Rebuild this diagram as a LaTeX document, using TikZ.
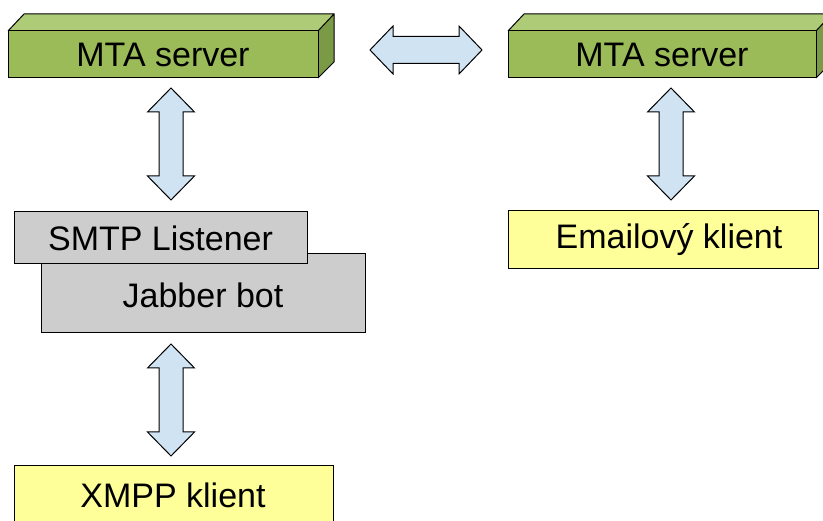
\documentclass[tikz,border=0pt]{standalone}
\usepackage{fontspec}
\setmainfont{Liberation Sans}
\definecolor{gfront}{HTML}{9BBB59}
\definecolor{gtop}{HTML}{AECB78}
\definecolor{gside}{HTML}{7A9A46}
\definecolor{ablue}{HTML}{CFE3F3}
\definecolor{bgray}{HTML}{CDCDCD}
\definecolor{byellow}{HTML}{FFFF99}
\tikzset{
  outl/.style={draw=black, line width=1pt, line join=miter},
  blockarrow/.style={outl, fill=ablue},
  lbl/.style={font=\fontsize{34}{40}\selectfont, inner sep=0pt},
  plainbox/.style={outl, inner sep=0pt, outer sep=0pt},
}
\newcommand\vblock[3]{\draw[blockarrow] (#1,#2) -- (#1+23.5,#2+24) -- (#1+12,#2+24) -- (#1+12,#3-24) -- (#1+23.5,#3-24) -- (#1,#3) -- (#1-23.5,#3-24) -- (#1-12,#3-24) -- (#1-12,#2+24) -- (#1-23.5,#2+24) -- cycle;}
\newcommand\mtabox[4]{% name, x1, x2, label
  \fill[gtop] (#2,31) -- (#2+16,14) -- (#3+16,14) -- (#3,31) -- cycle;
  \fill[gside] (#3,31) -- (#3+16,14) -- (#3+16,62) -- (#3,78) -- cycle;
  \node[plainbox, fill=gfront, minimum width={#3-#2}, minimum height=47, anchor=north west] (#1) at (#2,31) {};
  \draw[outl] (#2,31) -- (#2+16,14) -- (#3+16,14) -- (#3+16,62) -- (#3,78) (#3,31) -- (#3+16,14);
  \node[lbl] at (#1.center) {#4};
}
\begin{document}
\begin{tikzpicture}[x=1pt,y=-1pt]
\useasboundingbox (0,0) rectangle (823,521);
\clip (0,0) rectangle (823,521);
% MTA servers
\mtabox{mtaL}{8}{318}{MTA server}
\mtabox{mtaR}{508}{816}{MTA server}
% horizontal double arrow
\draw[blockarrow] (370,50) -- (393,26) -- (393,36.5) -- (459,36.5) -- (459,26) -- (482,50) -- (459,74) -- (459,63.5) -- (393,63.5) -- (393,74) -- cycle;
% vertical arrows
\vblock{171}{88}{200}
\vblock{671}{88}{200}
\vblock{171}{344}{456}
% Jabber bot and SMTP Listener
\node[plainbox, fill=bgray, minimum width=324, minimum height=79, anchor=north west] (jab) at (41,254) {};
\node[lbl] at (203,295) {Jabber bot};
\node[plainbox, fill=bgray, minimum width=293, minimum height=52, anchor=north west] (smtp) at (14,212) {};
\node[lbl] at (smtp.center) {SMTP Listener};
% clients
\node[plainbox, fill=byellow, minimum width=310, minimum height=58, anchor=north west] (email) at (508,211) {};
\node[lbl] at (669,240) {Emailový klient};
\node[plainbox, fill=byellow, minimum width=319, minimum height=70, anchor=north west] (xmpp) at (14,466) {};
\node[lbl] at (173,495) {XMPP klient};
\end{tikzpicture}
\end{document}
